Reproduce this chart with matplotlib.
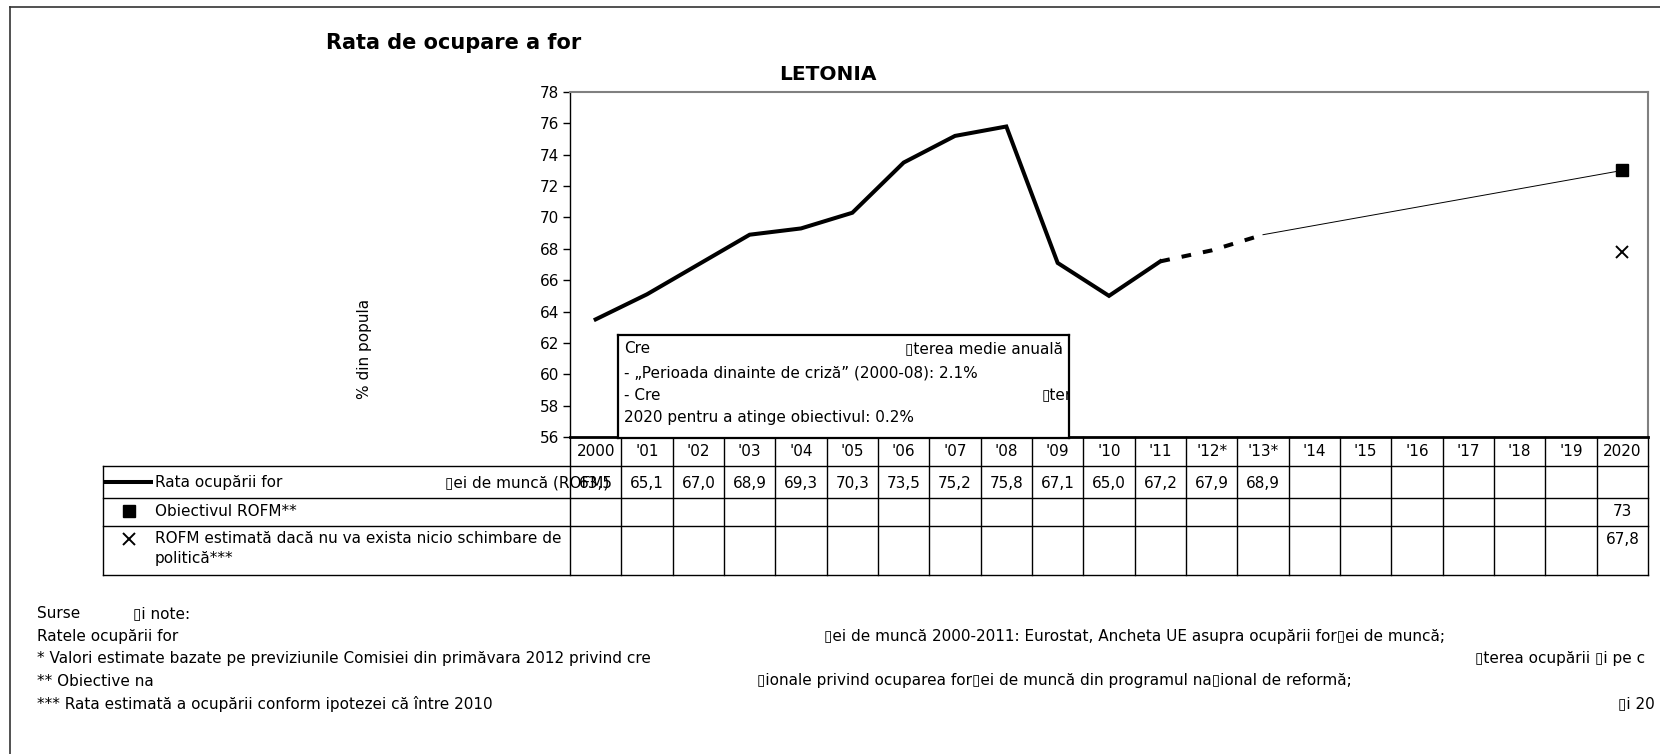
import matplotlib
matplotlib.use("Agg")
import matplotlib.pyplot as plt
from matplotlib.lines import Line2D

plt.rcParams['font.family'] = ['DejaVu Sans']

# ---------------- data ----------------
years = ['2000', "'01", "'02", "'03", "'04", "'05", "'06", "'07", "'08", "'09",
         "'10", "'11", "'12*", "'13*", "'14", "'15", "'16", "'17", "'18", "'19", '2020']
rofm = [63.5, 65.1, 67.0, 68.9, 69.3, 70.3, 73.5, 75.2, 75.8, 67.1, 65.0, 67.2, 67.9, 68.9]
n_actual = 12          # 2000-2011 observed, '12*, '13* estimated
target_2020 = 73
nochange_2020 = 67.8

title = "Rata de ocupare a for"
subtitle = "LETONIA"
ylabel = "% din popula"
legend_labels = ["Rata ocupării for", "▯ei de muncă (ROFM)",
                 "Obiectivul ROFM**",
                 "ROFM estimată dacă nu va exista nicio schimbare de\npolitică***"]
box_lines = [("Cre", "▯terea medie anuală"),
             ("- „Perioada dinainte de criză” (2000-08): 2.1%", None),
             ("- Cre", "▯ter"),
             ("2020 pentru a atinge obiectivul: 0.2%", None)]
notes = [("Surse", "▯i note:"),
         ("Ratele ocupării for", "▯ei de muncă 2000-2011: Eurostat, Ancheta UE asupra ocupării for▯ei de muncă;"),
         ("* Valori estimate bazate pe previziunile Comisiei din primăvara 2012 privind cre", "▯terea ocupării ▯i pe c"),
         ("** Obiective na", "▯ionale privind ocuparea for▯ei de muncă din programul na▯ional de reformă;"),
         ("*** Rata estimată a ocupării conform ipotezei că între 2010", "▯i 20")]
notes_second_x = [133, 824, 1475, 757, 1618]

W, H = 1660, 754
fig = plt.figure(figsize=(W / 100, H / 100), dpi=100)
fig.patch.set_facecolor('white')


def rect(x0, y0, x1, y1):
    return [x0 / W, 1 - y1 / H, (x1 - x0) / W, (y1 - y0) / H]


def fx(x):
    return x / W


def fy(y):
    return 1 - y / H


# outer frame (top and left edges visible)
fig.add_artist(Line2D([fx(10), 1], [fy(7), fy(7)], color='#333333', lw=1.2))
fig.add_artist(Line2D([fx(10), fx(10)], [fy(7), 0], color='#333333', lw=1.2))

# titles
fig.text(fx(326), fy(43), title, fontsize=15, fontweight='bold', va='center', ha='left')
fig.text(fx(828), fy(75), subtitle, fontsize=14.5, fontweight='bold', va='center', ha='center')
fig.text(fx(365), fy(349), ylabel, fontsize=11, rotation=90, va='center', ha='center')

# ---------------- main plot ----------------
L, R, T, B = 570, 1648, 92, 437
ax = fig.add_axes(rect(L, T, R, B))
x = list(range(len(years)))
ax.plot(x[:n_actual], rofm[:n_actual], color='black', lw=2.9, solid_joinstyle='miter')
ax.plot(x[n_actual - 1:len(rofm)], rofm[n_actual - 1:], color='black', lw=2.9,
        linestyle=(0, (2.4, 3.0)))
ax.plot([x[len(rofm) - 1], x[-1]], [rofm[-1], target_2020], color='black', lw=0.7)
ax.plot([x[-1]], [target_2020], marker='s', color='black', ms=8, ls='none')
ax.plot([x[-1]], [nochange_2020], marker='x', color='black', ms=9, mew=1.4, ls='none')

ax.set_xlim(-0.5, len(years) - 0.5)
ax.set_ylim(56, 78)
ax.set_yticks(range(56, 79, 2))
ax.set_xticks([])
ax.tick_params(axis='y', labelsize=11, length=5, width=1, direction='out', pad=3)
for s in ['top', 'right']:
    ax.spines[s].set_color('#808080')
    ax.spines[s].set_linewidth(1.5)
ax.spines['left'].set_color('black')
ax.spines['left'].set_linewidth(1.0)
ax.spines['bottom'].set_color('black')
ax.spines['bottom'].set_linewidth(2.0)

# ---------------- data table ----------------
TL = 103
TB = 575
col_w = (R - L) / len(years)
left_ext = (L - TL) / col_w
tax = fig.add_axes(rect(TL, B, R, TB))
tax.set_xlim(-0.5 - left_ext, len(years) - 0.5)
tax.set_ylim(TB - B, 0)
tax.axis('off')
row_edges = [29, 61, 89, TB - B]
for yy in row_edges:
    tax.plot([-0.5 - left_ext, len(years) - 0.5], [yy, yy], color='black', lw=1.0,
             clip_on=False)
for i in range(len(years) + 1):
    tax.plot([i - 0.5, i - 0.5], [0, TB - B], color='black', lw=1.0, clip_on=False)
tax.plot([-0.5 - left_ext, -0.5 - left_ext], [29, TB - B], color='black', lw=1.0,
         clip_on=False)

for i, lab in enumerate(years):
    tax.text(i, 15, lab, ha='center', va='center', fontsize=11)
for i, v in enumerate(rofm):
    tax.text(i, 46, f"{v:.1f}".replace('.', ','), ha='center', va='center', fontsize=11)
tax.text(len(years) - 1, 74, f"{target_2020}", ha='center', va='center', fontsize=11)
tax.text(len(years) - 1, 102, f"{nochange_2020}".replace('.', ','), ha='center',
         va='center', fontsize=11)

# legend column
px = lambda p: -0.5 - left_ext + (p - TL) / col_w
tax.plot([px(103), px(153)], [45, 45], color='black', lw=2.9, clip_on=False,
         solid_capstyle='butt')
tax.text(px(155), 46, legend_labels[0], ha='left', va='center', fontsize=11)
tax.text(px(445), 46, legend_labels[1], ha='left', va='center', fontsize=11)
tax.plot([px(129)], [74], marker='s', color='black', ms=8, ls='none', clip_on=False)
tax.text(px(155), 74, legend_labels[2], ha='left', va='center', fontsize=11)
tax.plot([px(129)], [102], marker='x', color='black', ms=9, mew=1.4, ls='none',
         clip_on=False)
tax.text(px(155), 94, legend_labels[3], ha='left', va='top', fontsize=11,
         linespacing=1.45)

# ---------------- annotation box ----------------
bx0, by0, bx1, by1 = 618, 335, 1069, 438
bax = fig.add_axes(rect(bx0, by0, bx1, by1), zorder=5)
bax.set_xlim(bx0, bx1)
bax.set_ylim(by1, by0)
bax.set_xticks([])
bax.set_yticks([])
bax.set_facecolor('white')
for s in bax.spines.values():
    s.set_color('black')
    s.set_linewidth(1.6)
line_y = [349, 373, 396, 418]
second_x = [905, None, 1042, None]
for (a, b), yy, sx in zip(box_lines, line_y, second_x):
    bax.text(624, yy, a, ha='left', va='center', fontsize=11, clip_on=True)
    if b is not None:
        bax.text(sx, yy, b, ha='left', va='center', fontsize=11, clip_on=True)

# ---------------- notes ----------------
note_y = [614, 637, 659, 681, 704]
for (a, b), yy, sx in zip(notes, note_y, notes_second_x):
    fig.text(fx(37), fy(yy), a, ha='left', va='center', fontsize=11)
    fig.text(fx(sx), fy(yy), b, ha='left', va='center', fontsize=11)

fig.savefig('out.png', dpi=100, facecolor='white')
